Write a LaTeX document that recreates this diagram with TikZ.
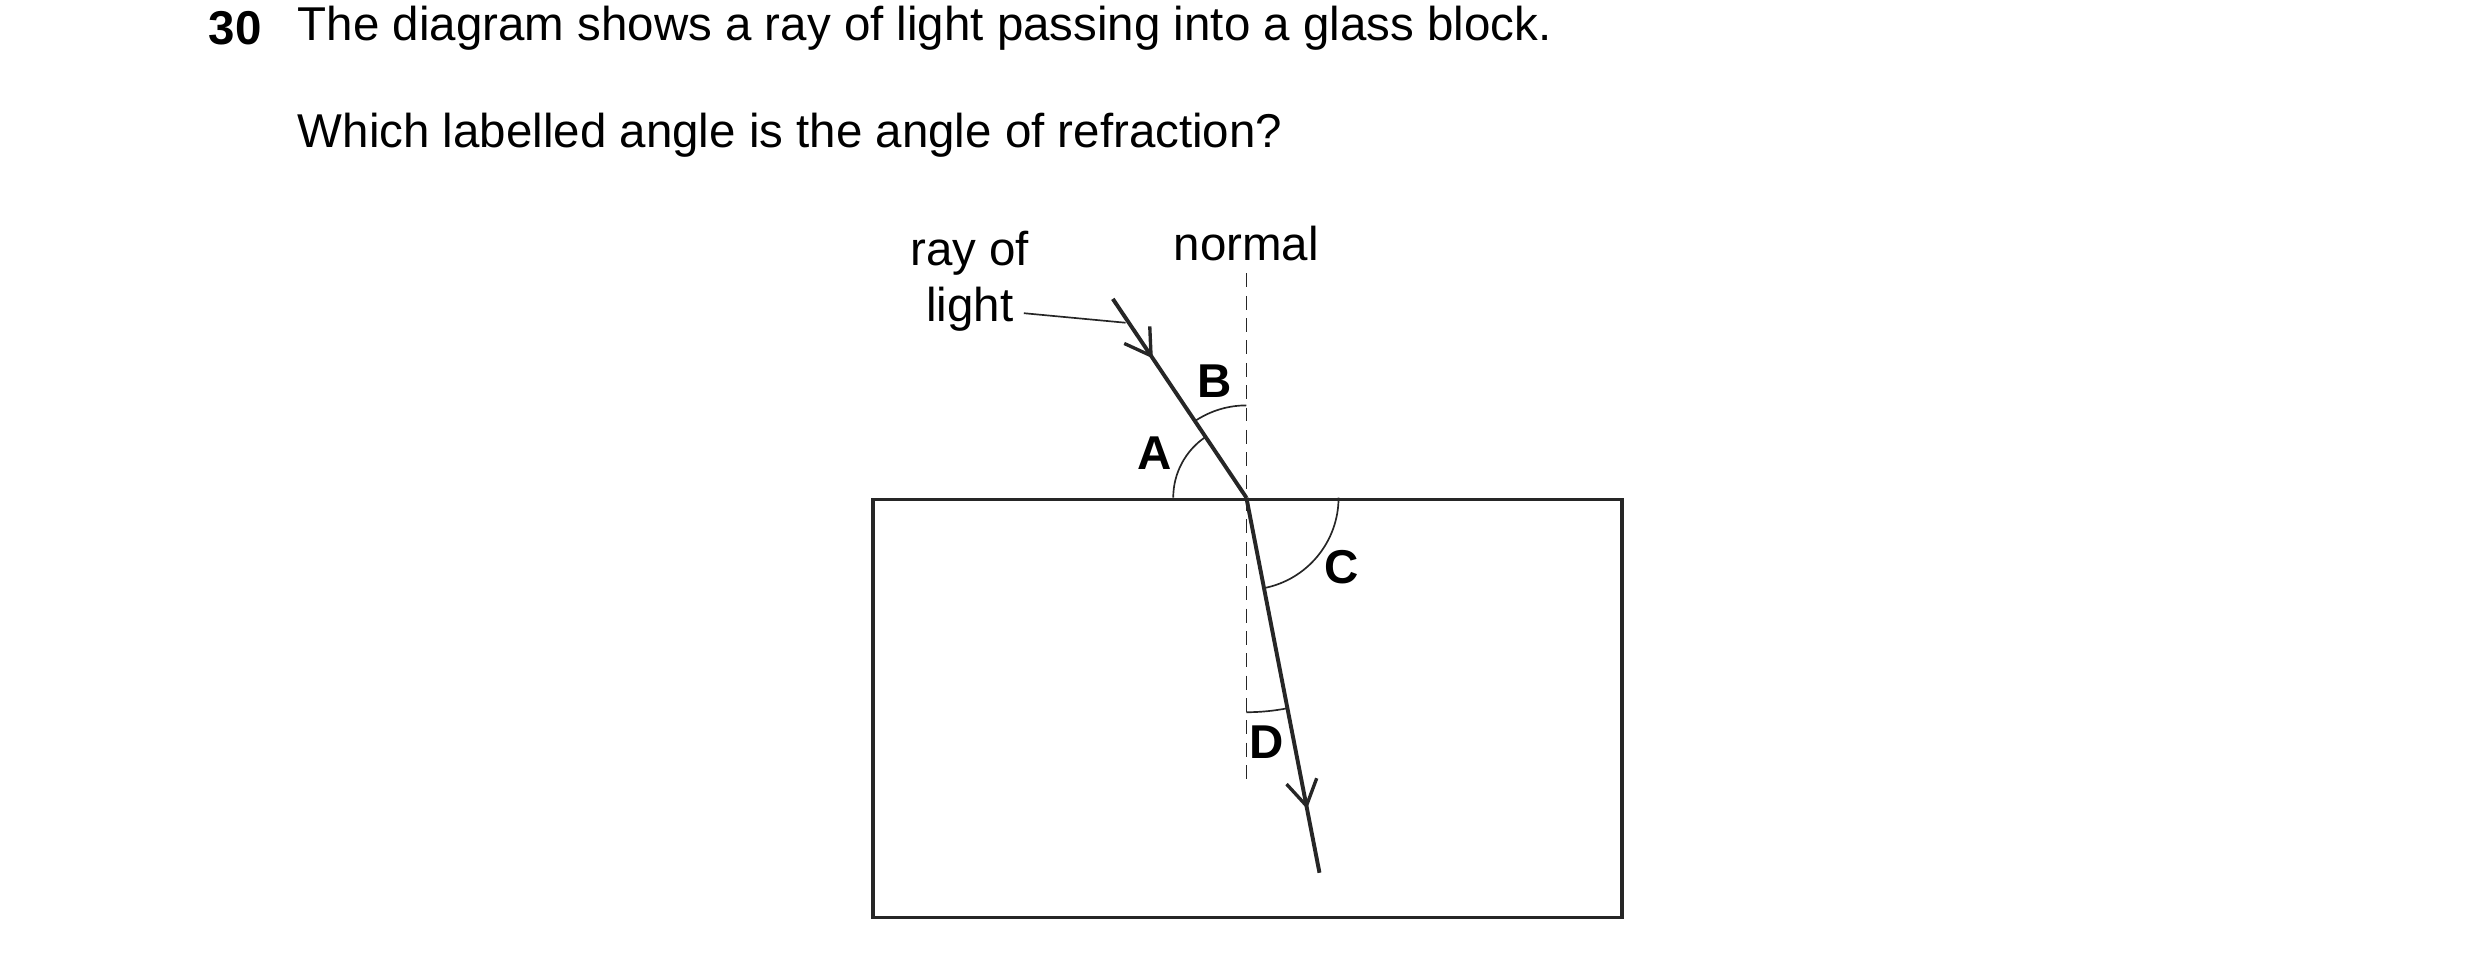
\documentclass[tikz,border=0pt]{standalone}
\usepackage{fontspec}
\setmainfont{Liberation Sans}
\usetikzlibrary{arrows.meta,decorations.markings,calc}
\begin{document}
\begin{tikzpicture}[x=0.02cm,y=-0.02cm,
  txt/.style={font=\fontsize{17}{20}\selectfont,inner sep=0pt},
  lbl/.style={font=\fontsize{17}{20}\selectfont\bfseries,inner sep=0pt},
  ray/.style={line width=1.4pt,draw=black!85},
  thin/.style={line width=0.6pt,draw=black!85},
  mark/.style={postaction={decorate,decoration={markings,mark=at position #1 with {\arrow{Straight Barb[length=9pt,width=11pt,line width=1.2pt]}}}}}]
\useasboundingbox (0,0) rectangle (1560,600);
\node[lbl,anchor=west] (num) at (131,18) {30};
\node[txt,anchor=west] (q1) at (187,18) {The diagram shows a ray of light passing into a glass block.};
\node[txt,anchor=west] (q2) at (187,85) {Which labelled angle is the angle of refraction?};
\node[draw=black!85,line width=1.3pt,minimum width=471*0.02cm,minimum height=263*0.02cm,anchor=north west,inner sep=0pt] (block) at (548,313) {};
\coordinate (P) at (784,313);
\coordinate (top) at (784,172);
\coordinate (bot) at (784,495);
\coordinate (src) at (700,188);
\coordinate (end) at (830,549);
\draw[thin,dash pattern=on 5pt off 3pt] (top) -- (bot);
\node[txt] (normal) at (784,153) {normal};
\draw[ray,mark=0.3] (src) -- (P);
\draw[ray,mark=0.83] (P) -- (end);
\node[txt,align=center] (rol) at (610,177) {ray of\\light};
\coordinate (lead) at (708,203);
\draw[thin] (644,197) -- (lead);
\draw[thin] ($(P)+(180:46)$) arc[start angle=180,end angle=236.1,radius=46];
\draw[thin] ($(P)+(236.1:58)$) arc[start angle=236.1,end angle=270,radius=58];
\draw[thin] ($(P)+(0:58)$) arc[start angle=0,end angle=79,radius=58];
\draw[thin] ($(P)+(79:135)$) arc[start angle=79,end angle=90,radius=135];
\node[lbl] (A) at (726,285) {A};
\node[lbl] (B) at (764,240) {B};
\node[lbl] (C) at (844,357) {C};
\node[lbl] (D) at (797,467) {D};
\end{tikzpicture}
\end{document}
